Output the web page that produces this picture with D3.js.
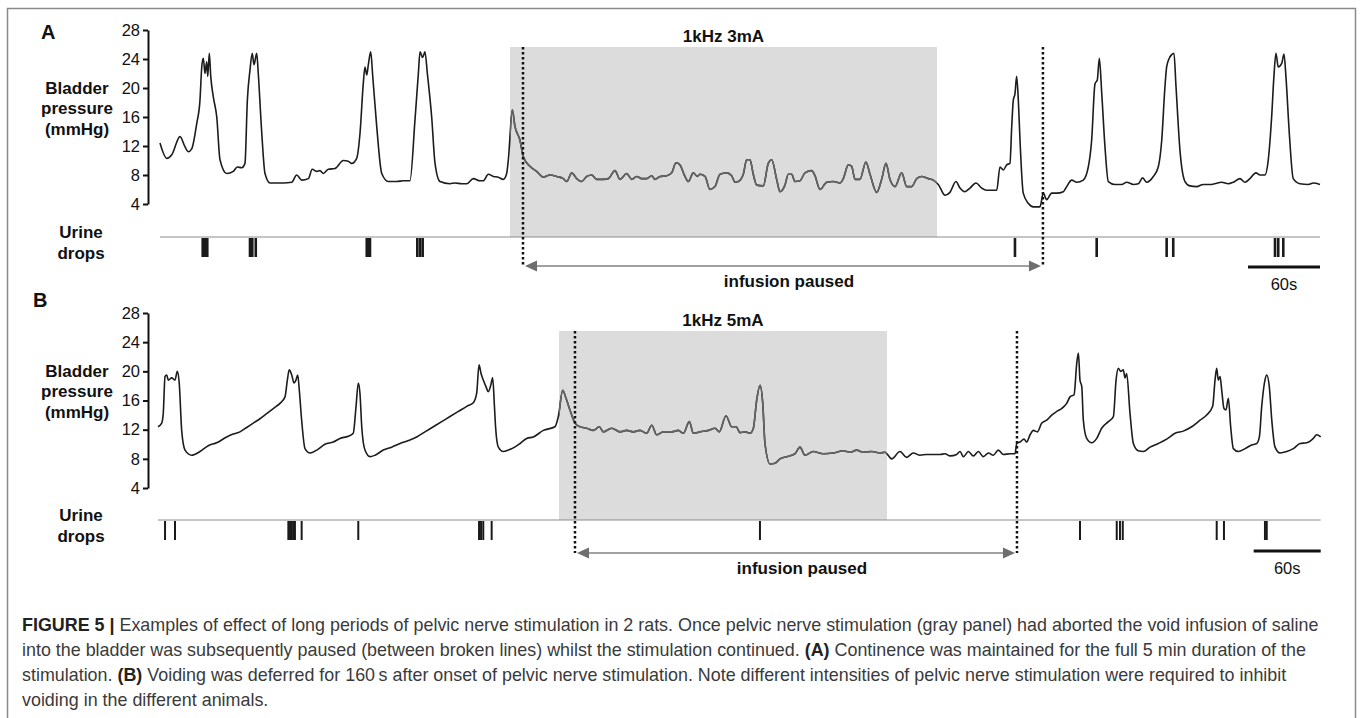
<!DOCTYPE html>
<html>
<head>
<meta charset="utf-8">
<script src="https://cdn.jsdelivr.net/npm/d3@7"></script>
<style>
  body { margin: 0; background: #fff; }
  svg { display: block; font-family: "Liberation Sans", Arial, sans-serif; }
  .lbl { font-weight: bold; font-size: 17px; fill: #111; }
  .tick text { font-size: 16.5px; fill: #111; }
  .caption { font-size: 17.9px; fill: #3a3a3a; }
</style>
</head>
<body>
<svg width="1360" height="718"></svg>
<script>
// bladder pressure traces, [time (s), pressure (mmHg)]
var traceA = [[0,12.4],[5.6,10.3],[9.8,10.8],[16.7,13.3],[20.8,11.9],[23.6,11.2],[26.4,11.6],[30.6,15.1],[33.3,18.3],[34.8,22.9],[36.1,24.1],[37.5,22.0],[38.9,23.6],[39.8,21.6],[41.1,24.8],[42.3,21.6],[44.4,18.8],[47.3,16.0],[50,10.1],[55.6,8.2],[61.1,8.5],[64.4,9.1],[68.1,9.0],[70.8,9.6],[72.8,18.3],[75,22.5],[76.9,24.8],[78.3,23.2],[80.6,24.8],[81.9,22.0],[84.8,13.8],[87.5,8.2],[91.7,6.9],[102.8,6.9],[109.8,7.0],[113.9,8.0],[118.1,7.3],[123.6,7.5],[126.9,8.8],[130.6,8.5],[133.3,8.6],[136.1,8.2],[140.3,8.8],[145.8,8.9],[152.8,10.0],[156.9,9.9],[159.8,9.6],[163.9,10.3],[166.7,13.8],[169.4,20.6],[170.8,22.9],[172.3,21.8],[173.6,23.2],[175.6,25.0],[177.3,21.6],[180.6,14.7],[184.8,8.2],[190.3,7.1],[197.3,7.1],[202.8,7.2],[208.3,7.2],[212.5,15.6],[215.3,22.0],[216.7,25.0],[218.9,24.2],[220.8,25.0],[222.8,22.0],[226.4,16.0],[229.2,9.6],[233.3,7.1],[241.7,6.8],[245.8,6.9],[251.4,6.8],[255.6,6.8],[261.1,7.5],[266.7,7.2],[269.4,7.2],[273.6,8.1],[277.8,7.8],[281.9,7.7],[286.1,7.4],[288.9,8.2],[290.3,10.1],[293.6,17.0],[295.8,14.7],[300,12.8],[302.8,10.5],[308.3,9.2],[313.9,8.5],[319.4,7.7],[325,8.0],[330.6,7.8],[336.1,7.5],[338.9,7.1],[343.1,8.3],[347.3,7.5],[351.4,7.1],[355.6,7.8],[359.8,8.0],[363.9,7.4],[369.4,7.4],[373.6,7.5],[379.2,8.6],[383.3,7.4],[388.9,8.2],[393.1,7.4],[397.3,7.8],[401.4,7.5],[405.6,7.5],[409.8,7.9],[412.5,7.4],[416.7,7.8],[422.3,7.9],[426.4,8.3],[430,9.7],[433.3,9.4],[437.5,7.8],[440.3,7.1],[444.4,8.3],[447.8,7.8],[450,8.1],[454.2,7.8],[458.3,6.0],[462.5,6.4],[466.7,8.1],[472.3,8.3],[476.4,7.9],[479.2,7.0],[481.9,7.1],[486.1,8.1],[488.9,10.1],[491.7,10.1],[494.4,8.1],[497.3,6.6],[502.8,6.5],[506.9,9.6],[509.8,10.1],[513.9,7.4],[516.7,5.7],[520.8,6.6],[523.6,8.1],[526.4,8.1],[529.2,7.1],[533.3,7.2],[537.5,8.3],[543.1,8.6],[545.8,7.9],[550,6.0],[555.6,7.0],[561.1,7.1],[566.7,6.9],[569.4,7.5],[573.6,9.4],[576.4,9.2],[579.2,7.4],[583.3,7.4],[588.3,9.8],[591.7,8.1],[597.3,5.6],[601.4,7.4],[605,9.6],[608.3,7.4],[612.5,6.4],[618.1,8.3],[622.3,6.4],[626.4,6.4],[630.6,7.5],[634.8,7.8],[640.3,7.5],[644.4,7.3],[648.6,6.7],[654.2,5.2],[658.3,5.6],[663.3,7.1],[666.7,6.2],[670.8,5.7],[675,6.2],[680,6.9],[684.8,6.2],[688.9,5.9],[697.3,5.9],[700,9.1],[702.8,8.7],[705.6,9.4],[708.3,9.6],[709.8,14.7],[711.1,18.3],[712.5,19.2],[713.9,21.6],[715.3,18.3],[716.7,12.8],[719.4,5.5],[723.6,4.1],[727.8,3.6],[733.3,3.6],[736.1,5.5],[738.9,4.6],[743.1,5.5],[747.3,5.5],[752.8,5.7],[755.6,6.4],[759.8,7.3],[763.9,7.0],[769.4,7.3],[773.6,9.1],[776.4,12.8],[779.2,20.6],[781.1,21.1],[782.8,24.1],[784.8,19.3],[787.5,11.9],[790.3,7.1],[795.8,6.7],[801.4,6.7],[805.6,7.0],[811.1,6.7],[815.3,6.8],[818.9,7.6],[822.3,7.0],[827.8,7.8],[831.9,9.1],[834.8,12.8],[837.5,20.2],[838.9,22.9],[841.1,24.1],[843.1,24.6],[845,24.8],[846.7,20.2],[850,11.4],[854.2,7.1],[858.3,6.5],[863.9,6.4],[869.4,6.7],[876.4,6.7],[884.8,7.0],[890.3,6.8],[894.4,7.0],[900,7.5],[904.2,7.0],[908.3,7.5],[913.3,8.3],[916.7,8.0],[920.8,8.0],[923.6,10.1],[926.4,16.0],[928.3,21.6],[930,24.8],[931.9,22.9],[934.8,23.4],[936.7,24.7],[938.3,21.6],[941.1,13.8],[944.4,7.5],[950,6.8],[956.9,6.7],[961.1,6.9],[966.7,6.7]];

var traceB = [[0,12.4],[3.3,12.9],[4.7,14.2],[6.3,19.3],[7.8,19.5],[9.2,18.8],[12.3,19.1],[15.2,18.8],[17.3,20.0],[19.0,18.4],[21.2,11.9],[24.2,9.2],[30.2,8.5],[37.6,9.0],[45.0,9.8],[52.5,10.2],[61.5,11.0],[67.4,11.4],[73.4,11.7],[79.4,12.3],[85.3,12.9],[91.3,13.5],[97.3,14.2],[103.2,14.9],[109.2,15.6],[113.7,16.5],[115.8,18.8],[117.5,20.2],[119.7,19.5],[121.8,18.4],[123.5,18.8],[125.1,19.5],[126.5,17.4],[128.6,13.3],[131.6,9.4],[136.1,8.8],[142.1,9.2],[149.5,10.0],[156.9,10.3],[162.9,10.8],[170.4,11.1],[174.8,11.5],[177.3,15.2],[179.3,18.4],[180.8,17.0],[182.4,12.4],[185.3,9.2],[189.8,8.3],[194.3,8.5],[201.7,9.2],[209.2,9.6],[216.7,10.1],[224.1,10.5],[231.6,11.0],[239.0,11.7],[246.5,12.4],[254.0,13.1],[261.4,13.8],[268.9,14.5],[276.4,15.2],[282.3,15.7],[285.3,17.0],[287.4,20.9],[289.2,19.7],[291.2,18.8],[293.6,17.9],[295.7,17.2],[297.9,18.1],[299.6,19.1],[301.2,15.2],[302.2,12.4],[304.7,9.6],[309.1,9.0],[313.6,9.2],[318.1,9.5],[324.1,10.1],[330.1,10.8],[336.0,11.0],[345.0,11.9],[355.4,12.4],[358.4,13.8],[362.3,17.4],[365.3,16.3],[368.8,14.7],[373.3,12.9],[377.8,12.4],[383.8,12.2],[389.7,11.9],[395.1,12.4],[398.7,11.7],[406.2,12.2],[413.6,11.7],[419.6,11.9],[425.5,11.7],[431.5,11.9],[437.5,11.5],[442.0,12.6],[446.4,11.3],[452.4,11.7],[459.9,11.7],[465.8,11.9],[470.3,11.5],[475.7,13.1],[479.3,11.5],[485.2,11.7],[492.7,11.9],[498.7,12.2],[502.5,11.7],[508.5,13.9],[513.6,12.4],[517.5,12.4],[521.0,11.6],[525.5,11.7],[530.0,11.5],[533.0,12.2],[536.0,16.1],[539.0,18.1],[541.4,15.6],[543.4,10.1],[547.9,7.3],[552.4,7.4],[556.8,8.0],[562.8,8.3],[570.2,8.7],[574.7,9.6],[579.2,8.5],[586.6,9.0],[595.6,8.7],[604.5,8.8],[613.5,9.1],[619.5,8.9],[625.5,9.2],[631.4,8.9],[638.9,9.0],[646.4,8.8],[650.8,8.9],[656.8,8.0],[664.3,9.0],[670.2,8.2],[676.2,8.8],[682.2,8.5],[688.2,8.6],[694.1,8.6],[700.1,8.6],[704.6,8.7],[709.1,8.4],[715.0,8.6],[718.0,9.0],[721.0,8.3],[725.5,9.0],[729.9,8.4],[734.4,9.0],[738.9,8.3],[743.4,8.8],[747.8,8.5],[752.3,9.2],[756.8,8.6],[762.8,8.7],[767.2,8.7],[768.8,10.1],[771.7,10.3],[775.3,10.7],[777.7,10.3],[780.7,11.3],[783.7,11.9],[787.2,11.7],[791.2,12.9],[795.6,13.3],[800.1,14.0],[804.6,14.5],[809.0,14.9],[813.5,15.6],[816.5,16.5],[820.1,16.8],[822.5,21.1],[824.0,22.5],[825.4,18.8],[827.0,17.9],[828.4,13.3],[831.4,10.8],[835.9,10.2],[840.4,10.8],[844.8,12.2],[850.8,13.1],[855.3,13.8],[857.7,18.8],[859.7,20.4],[861.9,20.0],[864.2,20.2],[865.7,19.1],[867.2,19.7],[870.2,14.2],[873.2,10.1],[877.6,9.1],[882.1,9.0],[888.1,9.6],[895.5,10.1],[903.0,10.7],[910.5,11.5],[917.9,11.8],[925.4,12.4],[932.9,13.3],[938.8,14.0],[944.2,15.2],[946.3,18.8],[947.8,20.4],[949.2,18.8],[950.8,19.3],[952.3,17.4],[954.3,14.9],[956.1,14.7],[958.2,16.3],[960.3,12.4],[962.7,9.4],[967.2,9.0],[973.2,9.4],[979.1,9.9],[983.6,10.1],[986.0,11.0],[988.1,15.2],[991.0,18.8],[992.6,19.5],[994.9,17.9],[997.1,13.3],[1000.0,9.6],[1004.5,8.8],[1010.5,9.0],[1016.4,9.4],[1022.4,10.1],[1028.4,10.2],[1034.3,10.8],[1037.3,11.3],[1040.9,11.0]];

// urine drop times (s)
var dropsA = [35.6,37.5,39.4,75,76.9,79.8,172.3,173.6,175,214.4,216.7,218.9,712.5,780.6,838.9,844.4,929.2,931.9,936.1];
var dropsB = [6.3,15.2,116.7,118.2,119.7,121.1,122.6,128.6,179.3,287.4,289.2,291.2,298.7,538.9,825.4,858.3,861.2,863.7,947.8,954.3,991.0,992.6];

// stimulation and infusion-paused windows (s)
var stimA = [291.7, 647.5], pauseA = [302.5, 735.8];
var stimB = [359.0, 652.6], pauseB = [373.3, 769.0];
var stimLabels = ["1kHz 3mA", "1kHz 5mA"];
var panelLetters = ["A", "B"];
var pressureTicks = [4, 8, 12, 16, 20, 24, 28];
var scaleBarSec = 60;

var captionLines = [
  [["FIGURE 5 | ", true], ["Examples of effect of long periods of pelvic nerve stimulation in 2 rats. Once pelvic nerve stimulation (gray panel) had aborted the void infusion of saline", false]],
  [["into the bladder was subsequently paused (between broken lines) whilst the stimulation continued. ", false], ["(A)", true], [" Continence was maintained for the full 5 min duration of the", false]],
  [["stimulation. ", false], ["(B)", true], [" Voiding was deferred for 160\u2009s after onset of pelvic nerve stimulation. Note different intensities of pelvic nerve stimulation were required to inhibit", false]],
  [["voiding in the different animals.", false]]
];

var svg = d3.select("svg");

// frame
svg.append("path")
  .attr("d", "M7.5,718 L7.5,8.5 L1355.5,8.5 L1355.5,718")
  .attr("fill", "none").attr("stroke", "#8a8a8a").attr("stroke-width", 1.5);

var panels = [
  {trace: traceA, drops: dropsA, stim: stimA, pause: pauseA, end: 966.7,
   xr: [160, 1320], yr: [204, 30], axisX: 148, top: 47, base: 237, arrowY: 266,
   letter: [41, 39], dropW: 2.6, scaleY: 267},
  {trace: traceB, drops: dropsB, stim: stimB, pause: pauseB, end: 1040.9,
   xr: [158, 1320.7], yr: [488, 313], axisX: 148, top: 331, base: 520, arrowY: 553,
   letter: [33, 307], dropW: 2, scaleY: 551}
];

var defs = svg.append("defs");

panels.forEach(function(p, i) {
  var x = d3.scaleLinear().domain([0, p.end]).range(p.xr);
  var y = d3.scaleLinear().domain([4, 28]).range(p.yr);
  var g = svg.append("g");

  // gray stimulation panel
  g.append("rect")
    .attr("x", x(p.stim[0])).attr("y", p.top)
    .attr("width", x(p.stim[1]) - x(p.stim[0]))
    .attr("height", p.base - p.top)
    .attr("fill", "#dcdcdc");

  g.append("text").attr("class", "lbl")
    .attr("x", (x(p.stim[0]) + x(p.stim[1])) / 2).attr("y", p.top - 5)
    .attr("text-anchor", "middle")
    .text(stimLabels[i]);

  // y axis
  var ax = g.append("g")
    .attr("transform", "translate(" + p.axisX + ",0)")
    .call(d3.axisLeft(y).tickValues(pressureTicks).tickSize(5).tickSizeOuter(0).tickPadding(3));
  ax.select(".domain").attr("stroke", "#111").attr("stroke-width", 2);
  ax.selectAll(".tick line").attr("stroke", "#111").attr("stroke-width", 2);
  ax.selectAll(".tick text").attr("font-family", "Liberation Sans, Arial, sans-serif");

  // pressure trace, grayer inside the stimulation window
  var line = d3.line().curve(d3.curveMonotoneX)
    .x(function(d) { return x(d[0]); }).y(function(d) { return y(d[1]); });
  g.append("path").datum(p.trace)
    .attr("d", line).attr("fill", "none")
    .attr("stroke", "#1c1c1c").attr("stroke-width", 1.6).attr("stroke-linejoin", "round");
  defs.append("clipPath").attr("id", "clip" + i)
    .append("rect")
    .attr("x", x(p.stim[0])).attr("y", p.top)
    .attr("width", x(p.stim[1]) - x(p.stim[0])).attr("height", p.base - p.top);
  g.append("path").datum(p.trace)
    .attr("clip-path", "url(#clip" + i + ")")
    .attr("d", line).attr("fill", "none")
    .attr("stroke", "#666").attr("stroke-width", 1.6).attr("stroke-linejoin", "round");

  // urine drops
  g.append("line")
    .attr("x1", x(0)).attr("x2", x(p.end))
    .attr("y1", p.base).attr("y2", p.base)
    .attr("stroke", "#8c8c8c").attr("stroke-width", 1);
  g.selectAll(".drop").data(p.drops).enter().append("line")
    .attr("x1", function(d) { return x(d); }).attr("x2", function(d) { return x(d); })
    .attr("y1", p.base + 1).attr("y2", p.base + 20)
    .attr("stroke", "#1a1a1a").attr("stroke-width", p.dropW);

  // infusion paused: dotted lines + double arrow
  p.pause.forEach(function(t) {
    g.append("line")
      .attr("x1", x(t)).attr("x2", x(t))
      .attr("y1", p.top).attr("y2", p.arrowY)
      .attr("stroke", "#111").attr("stroke-width", 2.5)
      .attr("stroke-dasharray", "2.5,2.5");
  });
  var xa = x(p.pause[0]) + 2, xb = x(p.pause[1]) - 2;
  g.append("line")
    .attr("x1", xa + 10).attr("x2", xb - 10)
    .attr("y1", p.arrowY).attr("y2", p.arrowY)
    .attr("stroke", "#808080").attr("stroke-width", 1.6);
  g.append("path")
    .attr("d", "M" + xa + "," + p.arrowY + " l12,-5.5 l0,11 z")
    .attr("fill", "#6e6e6e");
  g.append("path")
    .attr("d", "M" + xb + "," + p.arrowY + " l-12,-5.5 l0,11 z")
    .attr("fill", "#6e6e6e");
  g.append("text").attr("class", "lbl")
    .attr("x", (xa + xb) / 2 + 6).attr("y", p.arrowY + 21)
    .attr("text-anchor", "middle")
    .text("infusion paused");

  // 60 s scale bar
  g.append("line")
    .attr("x1", x(p.end - scaleBarSec)).attr("x2", x(p.end))
    .attr("y1", p.scaleY).attr("y2", p.scaleY)
    .attr("stroke", "#111").attr("stroke-width", 3);
  g.append("text")
    .attr("x", (x(p.end - scaleBarSec) + x(p.end)) / 2).attr("y", p.scaleY + 23)
    .attr("text-anchor", "middle").attr("font-size", "16.5px").attr("fill", "#111")
    .text(scaleBarSec + "s");

  // labels
  g.append("text").attr("class", "lbl").style("font-size", "20px")
    .attr("x", p.letter[0]).attr("y", p.letter[1]).text(panelLetters[i]);
  var yl = g.append("text").attr("class", "lbl").attr("text-anchor", "middle");
  ["Bladder", "pressure", "(mmHg)"].forEach(function(s, k) {
    yl.append("tspan").attr("x", 77).attr("y", y(20) + 5.5 + k * 20.5).text(s);
  });
  var ul = g.append("text").attr("class", "lbl").attr("text-anchor", "middle");
  ["Urine", "drops"].forEach(function(s, k) {
    ul.append("tspan").attr("x", 81).attr("y", p.base + 1 + k * 21).text(s);
  });
});

// caption
var cap = svg.append("g");
captionLines.forEach(function(parts, k) {
  var t = cap.append("text").attr("class", "caption")
    .attr("x", 22).attr("y", 631 + k * 25);
  parts.forEach(function(pt) {
    t.append("tspan")
      .attr("font-weight", pt[1] ? "bold" : null)
      .attr("fill", pt[1] ? "#222" : null)
      .text(pt[0]);
  });
});
</script>
</body>
</html>
